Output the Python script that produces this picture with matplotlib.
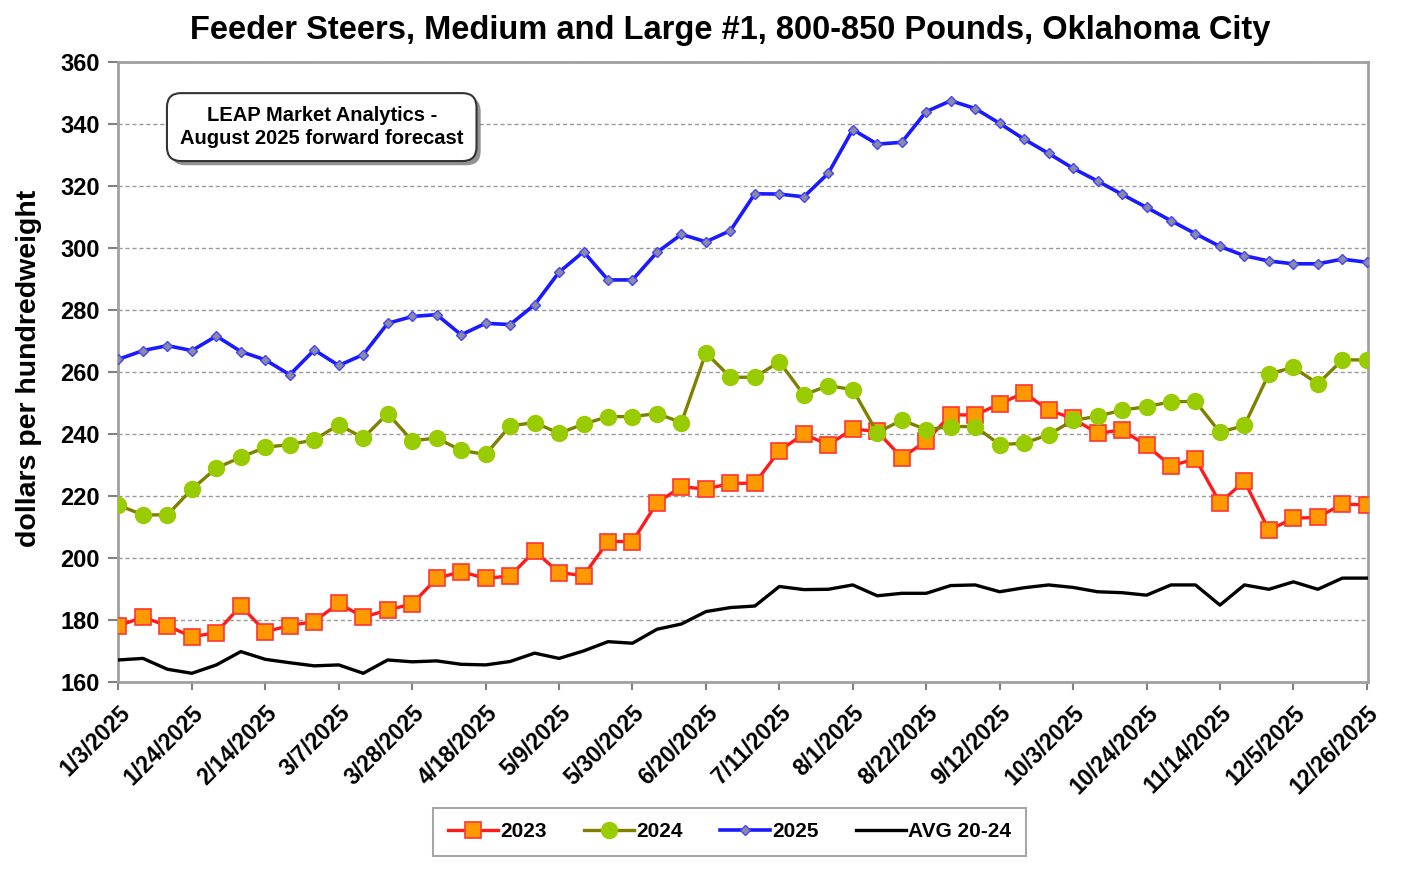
"""Feeder steers price chart, Oklahoma City, weekly 2025 forecast vs prior years."""

import matplotlib

matplotlib.use("Agg")
import matplotlib.patheffects as pe
import matplotlib.pyplot as plt

plt.rcParams["font.family"] = ["Liberation Sans", "DejaVu Sans"]
plt.rcParams["font.weight"] = "bold"

# weekly dates, 1/3/2025 .. 12/26/2025
weeks = [
    "1/3/2025", "1/10/2025", "1/17/2025", "1/24/2025", "1/31/2025", "2/7/2025",
    "2/14/2025", "2/21/2025", "2/28/2025", "3/7/2025", "3/14/2025", "3/21/2025",
    "3/28/2025", "4/4/2025", "4/11/2025", "4/18/2025", "4/25/2025", "5/2/2025",
    "5/9/2025", "5/16/2025", "5/23/2025", "5/30/2025", "6/6/2025", "6/13/2025",
    "6/20/2025", "6/27/2025", "7/4/2025", "7/11/2025", "7/18/2025", "7/25/2025",
    "8/1/2025", "8/8/2025", "8/15/2025", "8/22/2025", "8/29/2025", "9/5/2025",
    "9/12/2025", "9/19/2025", "9/26/2025", "10/3/2025", "10/10/2025", "10/17/2025",
    "10/24/2025", "10/31/2025", "11/7/2025", "11/14/2025", "11/21/2025", "11/28/2025",
    "12/5/2025", "12/12/2025", "12/19/2025", "12/26/2025",
]

y2023 = [
    178.1, 180.9, 178.1, 174.6, 175.9, 184.6, 176.2, 178.2, 179.5, 185.4,
    180.9, 183.2, 185.2, 193.4, 195.6, 193.4, 194.2, 202.2, 195.3, 194.3,
    205.3, 205.3, 217.8, 223.0, 222.2, 224.1, 224.1, 234.6, 240.0, 236.5,
    241.6, 240.8, 232.4, 237.7, 246.2, 246.1, 249.7, 253.3, 247.7, 245.0,
    240.2, 241.3, 236.3, 229.7, 232.0, 217.8, 224.8, 209.0, 212.8, 213.1,
    217.4, 217.1,
]

y2024 = [
    217.0, 213.9, 213.9, 222.2, 229.0, 232.5, 235.7, 236.6, 238.1, 243.0,
    238.7, 246.6, 237.8, 238.7, 234.7, 233.4, 242.6, 243.7, 240.2, 243.2,
    245.6, 245.6, 246.6, 243.7, 266.2, 258.3, 258.3, 263.3, 252.6, 255.6,
    254.3, 240.4, 244.5, 241.4, 242.4, 242.4, 236.6, 237.0, 239.8, 244.4,
    245.7, 247.7, 248.8, 250.4, 250.5, 240.5, 242.8, 259.4, 261.5, 256.2,
    263.9, 263.9,
]

y2025 = [
    264.1, 266.9, 268.5, 266.9, 271.6, 266.6, 263.9, 259.1, 267.1, 262.1,
    265.6, 275.7, 277.9, 278.5, 272.0, 275.7, 275.3, 281.7, 292.2, 298.8,
    289.7, 289.7, 298.6, 304.4, 302.0, 305.6, 317.5, 317.4, 316.5, 324.1,
    338.2, 333.5, 334.1, 344.0, 347.5, 345.0, 340.2, 335.1, 330.5, 325.7,
    321.6, 317.3, 313.1, 308.8, 304.6, 300.5, 297.5, 295.8, 294.9, 294.9,
    296.4, 295.4,
]

avg_20_24 = [
    167.1, 167.6, 164.1, 162.8, 165.5, 169.8, 167.3, 166.2, 165.2, 165.5,
    162.8, 167.1, 166.5, 166.8, 165.7, 165.5, 166.6, 169.3, 167.6, 170.0,
    173.0, 172.5, 177.0, 178.7, 182.7, 184.0, 184.5, 190.8, 189.8, 189.9,
    191.3, 187.8, 188.6, 188.6, 191.1, 191.3, 189.1, 190.4, 191.3, 190.5,
    189.1, 188.8, 188.0, 191.3, 191.3, 184.8, 191.3, 189.9, 192.3, 189.9,
    193.5, 193.5,
]

x = list(range(len(weeks)))

fig = plt.figure(figsize=(14.06, 8.82), dpi=100, facecolor="white")
ax = fig.add_axes([0.0839, 0.2268, 0.8891, 0.7029])

# 网格
ax.set_ylim(160, 360)
ax.set_yticks(range(160, 361, 20))
ax.grid(axis="y", color="#9a9a9a", linestyle=(0, (3, 2)), linewidth=1.0)
ax.set_axisbelow(True)

ax.plot(x, avg_20_24, color="black", linewidth=2.4, label="AVG 20-24", zorder=3)
ax.plot(
    x, y2023, color="#FF1a1a", linewidth=2.4, marker="s", markersize=11.5,
    markerfacecolor="#FF9900", markeredgecolor="#FF3333", markeredgewidth=1.2,
    label="2023", zorder=4,
)
ax.plot(
    x, y2024, color="#808000", linewidth=2.4, marker="o", markersize=11.5,
    markerfacecolor="#99CC00", markeredgecolor="#99CC00",
    label="2024", zorder=4,
)
ax.plot(
    x, y2025, color="#1a1aFF", linewidth=2.6, marker="D", markersize=5.5,
    markerfacecolor="#8a8aa0", markeredgecolor="#4444ff", markeredgewidth=1.0,
    label="2025", zorder=5,
)

ax.set_xlim(-0.02, len(weeks) - 0.95)
tick_idx = x[::3]
ax.set_xticks(tick_idx)
ax.set_xticklabels([weeks[i] for i in tick_idx], rotation=45, ha="right",
                   va="top", rotation_mode="anchor", fontsize=16.5)
ax.tick_params(axis="x", length=6, width=1.5, color="#808080", pad=8)
ax.tick_params(axis="y", length=7, width=1.5, color="#808080", labelsize=17, pad=6)

for spine in ax.spines.values():
    spine.set_color("#a0a0a0")
    spine.set_linewidth(2)

ax.set_ylabel("dollars per hundredweight", fontsize=20.5, fontweight="bold")
ax.yaxis.set_label_coords(-0.061, 0.506)
fig.text(0.519, 0.965, "Feeder Steers, Medium and Large #1, 800-850 Pounds, Oklahoma City",
         ha="center", va="center", fontsize=23.5, fontweight="bold")

note = ax.text(
    0.163, 0.895, "LEAP Market Analytics -\nAugust 2025 forward forecast",
    transform=ax.transAxes, ha="center", va="center", fontsize=14.5,
    linespacing=1.25,
    bbox=dict(boxstyle="round,pad=0.65,rounding_size=0.7", facecolor="white",
              edgecolor="#333333", linewidth=1.5),
    zorder=6,
)
note.get_bbox_patch().set_path_effects(
    [pe.SimplePatchShadow(offset=(3, -3), shadow_rgbFace="#777777", alpha=0.8), pe.Normal()]
)

handles, labels = ax.get_legend_handles_labels()
order = [1, 2, 3, 0]
leg = fig.legend(
    [handles[i] for i in order], [labels[i] for i in order],
    loc="center", bbox_to_anchor=(0.519, 0.0567), ncol=4, fontsize=15,
    frameon=True, fancybox=False, edgecolor="#909090", handlelength=2.4,
    handletextpad=0.1, columnspacing=1.8, borderpad=0.7,
)
leg.get_frame().set_linewidth(1.5)

fig.savefig("out.png", dpi=100, facecolor=fig.get_facecolor())
